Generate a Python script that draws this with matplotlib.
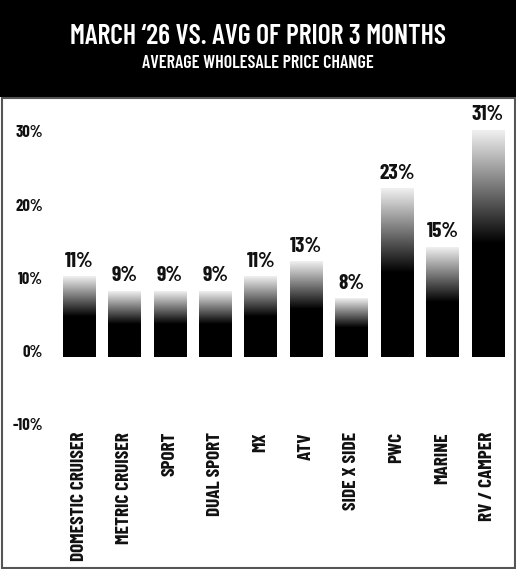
import numpy as np
import matplotlib
matplotlib.use("Agg")
import matplotlib.pyplot as plt
from matplotlib.patches import Rectangle
from matplotlib.transforms import ScaledTranslation

categories = ["DOMESTIC CRUISER", "METRIC CRUISER", "SPORT", "DUAL SPORT", "MX",
              "ATV", "SIDE X SIDE", "PWC", "MARINE", "RV / CAMPER"]
values = [11, 9, 9, 9, 11, 13, 8, 23, 15, 31]
y_ticks = [-10, 0, 10, 20, 30]
y_tick_labels = ["-10%", "0%", "10%", "20%", "30%"]

title = "MARCH \u201826 VS. AVG OF PRIOR 3 MONTHS"
subtitle = "AVERAGE WHOLESALE PRICE CHANGE"

plt.rcParams["font.family"] = ["Barlow Condensed", "Roboto Condensed", "Oswald", "DejaVu Sans"]
plt.rcParams["font.weight"] = "semibold"

W, H = 516, 569
fig = plt.figure(figsize=(W / 100, H / 100), dpi=100)
fig.patch.set_facecolor("white")

# header band
fig.add_artist(Rectangle((0, 1 - 97 / H), 1, 97 / H, transform=fig.transFigure,
                         facecolor="black", edgecolor="none", zorder=0))
fig.text(0.5, 1 - 36 / H, title, color="white", fontsize=20, ha="center", va="center")
fig.text(0.5, 1 - 63 / H, subtitle, color="white", fontsize=13, ha="center", va="center")

# panel border
fig.add_artist(Rectangle((1.5 / W, 1.5 / H), (W - 3) / W, (H - 99) / H,
                         transform=fig.transFigure, facecolor="none",
                         edgecolor="#555555", lw=1.5, zorder=1))

ax = fig.add_axes([55 / W, (H - 432) / H, 457 / W, (432 - 98) / H])
ax.set_facecolor("none")

x = np.arange(len(categories))
width = 0.72

# gradient: black lower half, fading to light grey at the top
t = np.linspace(0, 1, 256)
grad = np.where(t < 0.5, 0.0, ((t - 0.5) / 0.5) ** 1.0 * 0.94)[:, None]

for xi, v in zip(x, values):
    ax.imshow(grad, extent=[xi - width / 2, xi + width / 2, 0, v], origin="lower",
              aspect="auto", cmap="gray", vmin=0, vmax=1, interpolation="bilinear",
              zorder=2)
    ax.text(xi, v + 0.8, f"{v}%", ha="center", va="bottom", fontsize=15.5,
            fontweight="bold", color="#111111", zorder=3)

ax.set_xlim(-0.53, len(categories) - 1 + 0.53)
ax.set_ylim(-10.25, 35.38)
ax.set_yticks(y_ticks)
ax.set_yticklabels(y_tick_labels, fontsize=12, fontweight="bold", color="#111111")
ax.set_xticks(x)
ax.set_xticklabels(categories, rotation=90, fontsize=13.8, fontweight="bold",
                   color="#111111", va="top", ha="center")
ax.tick_params(length=0)
ax.tick_params(axis="y", pad=8.5)
ax.tick_params(axis="x", pad=0)
for s in ax.spines.values():
    s.set_visible(False)

# tick labels sit a little above their gridline in the original
shift = ScaledTranslation(0, 6 / 100, fig.dpi_scale_trans)
for lbl in ax.get_yticklabels():
    lbl.set_transform(lbl.get_transform() + shift)

fig.savefig("out.png", dpi=100)
